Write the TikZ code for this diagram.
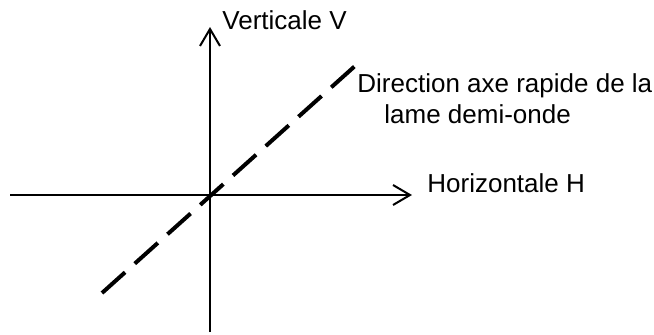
\documentclass[tikz,border=0pt]{standalone}
\usepackage{fontspec}
\setmainfont{Liberation Sans}
\usetikzlibrary{arrows.meta, positioning}

\begin{document}
\begin{tikzpicture}[
    x=0.5pt, y=-0.5pt,
    font=\fontsize{13}{16}\selectfont,
    axis/.style={line width=1pt, -{Straight Barb[length=8.5pt, width=10pt, line width=1pt]}},
    fastaxis/.style={line width=2pt, dash pattern=on 15.5pt off 6.5pt},
    lbl/.style={inner sep=0pt, anchor=base west}
  ]
    \useasboundingbox (0,0) rectangle (654,334);
    \coordinate (o) at (210,195);
    \coordinate (hl) at (10,195);
    \coordinate (hr) at (412,195);
    \coordinate (vb) at (210,332);
    \coordinate (vt) at (210,27);
    \coordinate (db) at (102,293);
    \coordinate (dt) at (355,66);
    \draw[axis] (hl) -- (hr);
    \draw[axis] (vb) -- (vt);
    \draw[fastaxis] (db) -- (dt);
    \node[lbl] (vlab) at (222,29) {Verticale V};
    \node[lbl] (hlab) at (427,192) {Horizontale H};
    \node[lbl] (dlab) at (357,92) {Direction axe rapide de la};
    \node[lbl] (dlab2) at (384,123) {lame demi-onde};
  \end{tikzpicture}
\end{document}
